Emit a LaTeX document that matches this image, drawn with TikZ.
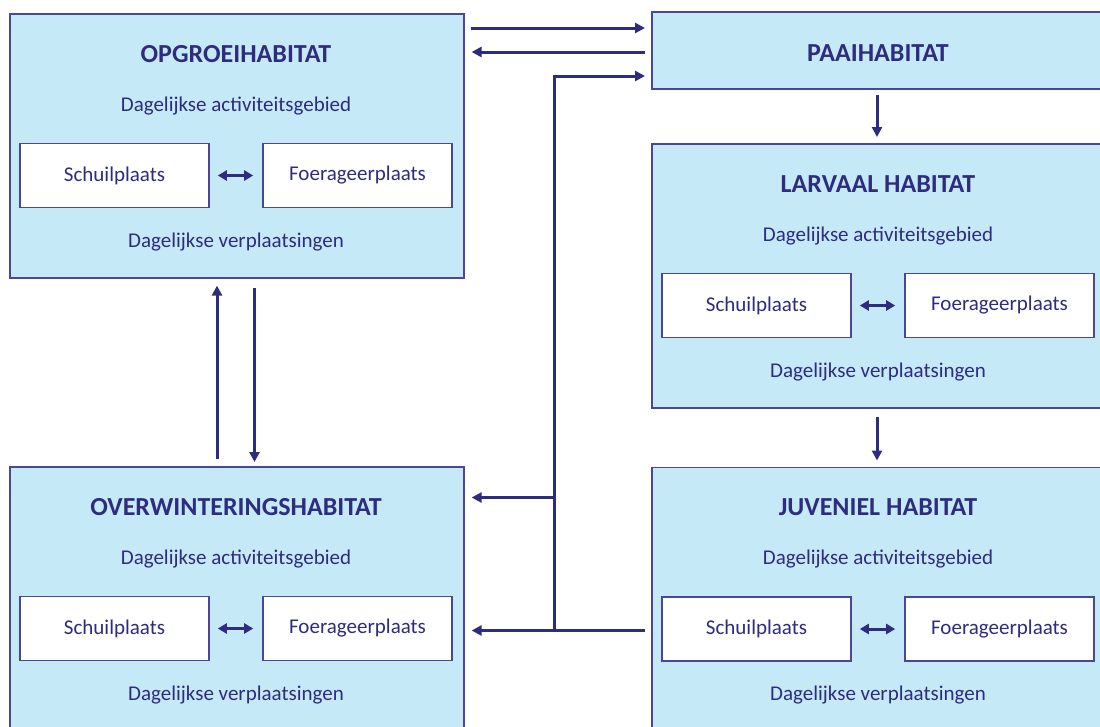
\documentclass[tikz,border=0pt]{standalone}
\usepackage{fontspec}
\setmainfont{Carlito}
\usetikzlibrary{arrows.meta,calc}
\definecolor{navy}{HTML}{2E2C7F}
\definecolor{boxfill}{HTML}{C6E9F8}
\definecolor{boxline}{HTML}{4A479A}
\tikzset{
  habitat/.style={draw=boxline,line width=1.6pt,fill=boxfill,anchor=north west,minimum width=454pt,minimum height=264pt,inner sep=0pt},
  place/.style={draw=boxline,line width=1.6pt,fill=white,minimum width=189pt,minimum height=64pt,inner sep=0pt,font=\fontsize{21}{24}\selectfont,text=navy},
  title/.style={font=\fontsize{26}{30}\selectfont\bfseries,text=navy,inner sep=0pt},
  sub/.style={font=\fontsize{21}{24}\selectfont,text=navy,inner sep=0pt},
  arr/.style={draw=navy,line width=3pt,-{Triangle[length=10pt,width=10pt]}},
  dbl/.style={draw=navy,line width=3pt,{Triangle[length=9pt,width=10pt]}-{Triangle[length=9pt,width=10pt]}},
}
\newcommand{\habitatbox}[4]{%
  % #1 name, #2 x, #3 y (top), #4 title
  \node[habitat] (#1) at (#2,#3) {};
  \node[title] (#1-t) at ($(#1.north west)+(227,41)$) {#4};
  \node[sub] (#1-a) at ($(#1.north west)+(227,93)$) {Dagelijkse activiteitsgebied};
  \node[place] (#1-s) at ($(#1.north west)+(105.5,162.5)$) {Schuilplaats};
  \node[place] (#1-f) at ($(#1.north west)+(348.5,162.5)$) {Foerageerplaats};
  \node[sub] (#1-v) at ($(#1.north west)+(227,229)$) {Dagelijkse verplaatsingen};
  \draw[dbl] ($(#1-s.east)+(8,0)$) -- ($(#1-f.west)+(-9,0)$);
}
\begin{document}
\begin{tikzpicture}[x=1pt,y=-1pt]
\useasboundingbox (0,0) rectangle (1100,726);
\begin{scope}
\clip (0,0) rectangle (1100,726);
\habitatbox{opg}{9}{13}{OPGROEIHABITAT}
\habitatbox{ovw}{9}{466}{OVERWINTERINGSHABITAT}
\habitatbox{larv}{651}{143}{LARVAAL HABITAT}
\habitatbox{juv}{651}{466.5}{JUVENIEL HABITAT}
\node[draw=boxline,line width=1.6pt,fill=boxfill,anchor=north west,minimum width=454pt,minimum height=77pt,inner sep=0pt] (paai) at (651,11) {};
\node[title] (paai-t) at ($(paai.north west)+(227,42)$) {PAAIHABITAT};
\end{scope}
% connectors
\draw[arr] ($(opg.north east)+(6,15)$) -- ($(paai.north west)+(-6,17)$);
\draw[arr] ($(paai.north west)+(-6,41)$) -- ($(opg.north east)+(7,39)$);
\coordinate (junc) at ($(juv.north west)+(-97,164)$);
\coordinate (bend) at ($(paai.north west)+(-97,65)$);
\coordinate (branch) at ($(ovw.north east)+(91,31.5)$);
\draw[arr] ($(juv.north west)+(-6,164)$) -- ($(ovw.north east)+(7,164.5)$);
\draw[arr] (junc) -- (bend) -- ($(paai.north west)+(-6,65)$);
\draw[arr] (branch) -- ($(ovw.north east)+(7,31.5)$);
\draw[arr] ($(ovw.north west)+(208,-7)$) -- ($(opg.south west)+(208,7)$);
\draw[arr] ($(opg.south west)+(245.5,9)$) -- ($(ovw.north west)+(245.5,-4)$);
\draw[arr] ($(paai.south west)+(226,5)$) -- ($(larv.north west)+(226,-6)$);
\draw[arr] ($(larv.south west)+(226,8)$) -- ($(juv.north west)+(226,-6)$);
\end{tikzpicture}
\end{document}
